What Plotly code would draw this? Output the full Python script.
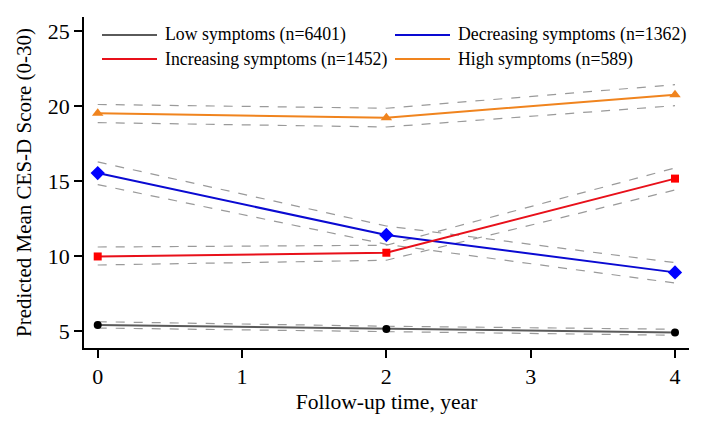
import plotly.graph_objects as go

years = [0, 2, 4]
x_ticks = [0, 1, 2, 3, 4]
y_ticks = [5, 10, 15, 20, 25]

names = ["Low symptoms (n=6401)", "Decreasing symptoms (n=1362)",
         "Increasing symptoms (n=1452)", "High symptoms (n=589)"]

low = [5.40, 5.13, 4.91]
low_hi = [5.62, 5.32, 5.12]
low_lo = [5.20, 4.95, 4.72]

decreasing = [15.53, 11.40, 8.91]
decreasing_hi = [16.27, 12.00, 9.56]
decreasing_lo = [14.76, 10.78, 8.20]

increasing = [9.97, 10.22, 15.16]
increasing_hi = [10.60, 10.72, 15.87]
increasing_lo = [9.40, 9.72, 14.40]

high = [19.51, 19.22, 20.75]
high_hi = [20.10, 19.85, 21.42]
high_lo = [18.89, 18.60, 20.02]

FONT = "Liberation Serif"
series = [
    (low, low_hi, low_lo, "#5a5a5a", "black", "circle", 8),
    (decreasing, decreasing_hi, decreasing_lo, "#0a0ad2", "#0000ff", "diamond", 11),
    (increasing, increasing_hi, increasing_lo, "#e8101a", "#ff0000", "square", 8),
    (high, high_hi, high_lo, "#f0841e", "#f0841e", "triangle-up", 10),
]

fig = go.Figure()
for vals, hi, lo, lc, mc, sym, ms in series:
    for band in (hi, lo):
        fig.add_trace(go.Scatter(x=years, y=band, mode="lines",
                                 line=dict(color="#9a9a9a", width=1.2, dash="dash"),
                                 showlegend=False, hoverinfo="skip"))
for (vals, hi, lo, lc, mc, sym, ms), nm in zip(series, names):
    fig.add_trace(go.Scatter(x=years, y=vals, mode="lines+markers", name=nm,
                             line=dict(color=lc, width=2),
                             marker=dict(color=mc, symbol=sym, size=ms),
                             showlegend=False))

# page has an 8px body offset; plot area targeted at screen x 84-689, y 17-348
W, H = 707, 434
ml, mr, mt, mb = 76, 26, 9, 94
pw, ph = W - ml - mr, H - mt - mb
OFF = 8
leg_pos = [(102, 35), (395, 35), (102, 59), (395, 59)]
for (px, py), s, nm in zip(leg_pos, series, names):
    x0 = (px - ml - OFF) / pw
    x1 = (px + 55 - ml - OFF) / pw
    yy = 1 - (py - mt - OFF) / ph
    fig.add_shape(type="line", xref="paper", yref="paper", x0=x0, x1=x1, y0=yy, y1=yy,
                  line=dict(color=s[3], width=2))
    fig.add_annotation(xref="paper", yref="paper", x=(px + 63 - ml - OFF) / pw, y=yy,
                       text=nm, showarrow=False, xanchor="left", yanchor="middle",
                       xshift=-2, font=dict(family=FONT, size=17.8, color="black"))

fig.update_layout(
    width=W, height=H,
    margin=dict(l=ml, r=mr, t=mt, b=mb),
    paper_bgcolor="white", plot_bgcolor="white",
    font=dict(family=FONT, color="black"),
    showlegend=False,
)
fig.update_xaxes(range=[-0.095, 4.097], tickvals=x_ticks, ticks="outside", ticklen=8,
                 tickwidth=1.5, tickcolor="black", showline=True, linecolor="black", linewidth=1.5,
                 showgrid=False, zeroline=False, tickfont=dict(size=22, family=FONT),
                 automargin=False,
                 title=dict(text="Follow-up time, year", font=dict(size=21.6, family=FONT), standoff=6))
fig.update_yaxes(range=[3.87, 25.93], tickvals=y_ticks, ticks="outside", ticklen=8,
                 tickwidth=1.5, tickcolor="black", showline=True, linecolor="black", linewidth=1.5,
                 showgrid=False, zeroline=False, tickfont=dict(size=22, family=FONT),
                 automargin=False,
                 title=dict(text="Predicted Mean CES-D Score (0-30)", font=dict(size=21, family=FONT), standoff=10))

fig.write_html("out.html")
